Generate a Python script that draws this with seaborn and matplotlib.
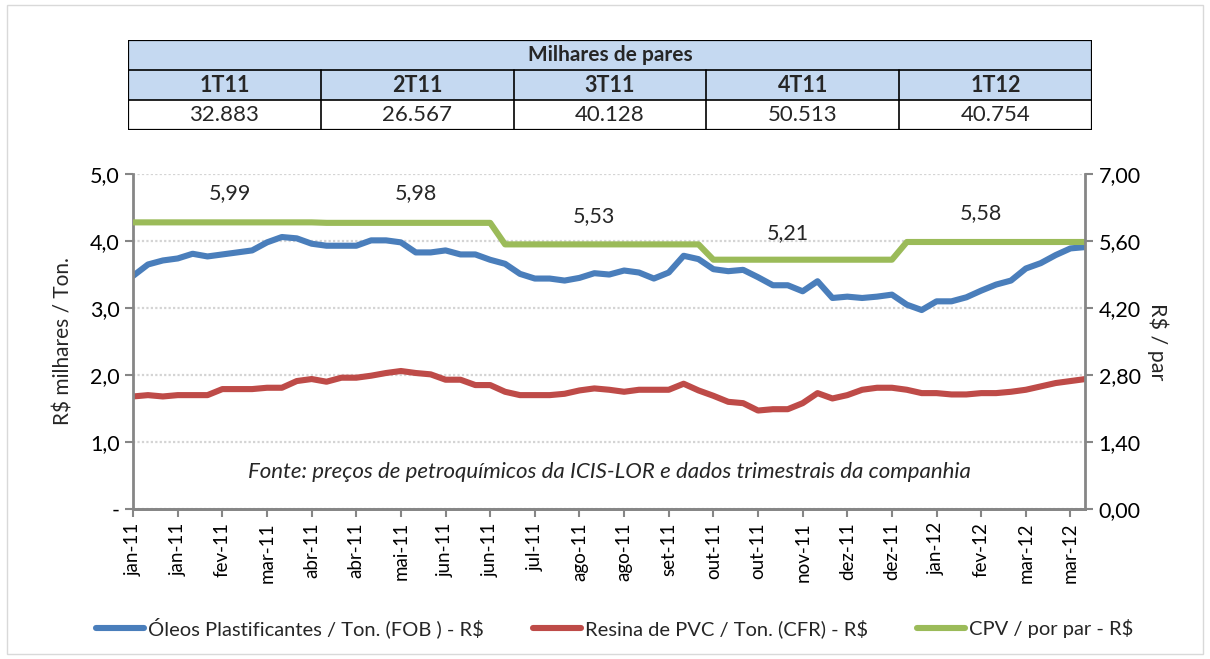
import seaborn as sns
import matplotlib.pyplot as plt
import matplotlib.patches as mpatches
import numpy as np
import pandas as pd

# Weekly series (65 points, jan-11 .. mar-12)
oleos = [3.48, 3.65, 3.71, 3.74, 3.81, 3.77, 3.80, 3.83, 3.86, 3.98,
         4.06, 4.04, 3.96, 3.93, 3.93, 3.93, 4.01, 4.01, 3.98, 3.83,
         3.83, 3.86, 3.80, 3.80, 3.72, 3.66, 3.51, 3.44, 3.44, 3.41,
         3.45, 3.52, 3.50, 3.56, 3.53, 3.44, 3.53, 3.78, 3.73, 3.58,
         3.55, 3.57, 3.46, 3.34, 3.34, 3.25, 3.40, 3.15, 3.17, 3.15,
         3.17, 3.20, 3.05, 2.97, 3.10, 3.10, 3.16, 3.26, 3.35, 3.41,
         3.59, 3.67, 3.79, 3.89, 3.91]
resina = [1.68, 1.70, 1.68, 1.70, 1.70, 1.70, 1.79, 1.79, 1.79, 1.81,
          1.81, 1.91, 1.94, 1.90, 1.96, 1.96, 1.99, 2.03, 2.06, 2.03,
          2.01, 1.93, 1.93, 1.85, 1.85, 1.75, 1.70, 1.70, 1.70, 1.72,
          1.77, 1.80, 1.78, 1.75, 1.78, 1.78, 1.78, 1.87, 1.77, 1.69,
          1.60, 1.58, 1.47, 1.49, 1.49, 1.58, 1.73, 1.65, 1.70, 1.78,
          1.81, 1.81, 1.78, 1.73, 1.73, 1.71, 1.71, 1.73, 1.73, 1.75,
          1.78, 1.83, 1.88, 1.91, 1.94]
cpv = [5.99] * 13 + [5.98] * 12 + [5.53] * 14 + [5.21] * 13 + [5.58] * 13

cpv_labels = ["5,99", "5,98", "5,53", "5,21", "5,58"]

x_labels = ["jan-11", "jan-11", "fev-11", "mar-11", "abr-11", "abr-11",
            "mai-11", "jun-11", "jun-11", "jul-11", "ago-11", "ago-11",
            "set-11", "out-11", "out-11", "nov-11", "dez-11", "dez-11",
            "jan-12", "fev-12", "mar-12", "mar-12"]

quarters = ["1T11", "2T11", "3T11", "4T11", "1T12"]
pares = ["32.883", "26.567", "40.128", "50.513", "40.754"]

df = pd.DataFrame({"semana": np.arange(len(oleos)), "oleos": oleos,
                   "resina": resina, "cpv": cpv})

sns.set_style("white")
plt.rcParams["font.family"] = ["Lato", "DejaVu Sans"]

BLUE = "#4A7EBB"
RED = "#BE4B48"
GREEN = "#9BBB59"
AXIS = "#868686"
FS = 15.5

fig = plt.figure(figsize=(12.1, 6.59), dpi=100)
ax = fig.add_axes([0.110, 0.2276, 0.787, 0.5083])
ax2 = ax.twinx()

sns.lineplot(data=df, x="semana", y="oleos", ax=ax, color=BLUE, lw=4.4,
             label="Óleos Plastificantes / Ton. (FOB ) - R$", legend=False)
sns.lineplot(data=df, x="semana", y="resina", ax=ax, color=RED, lw=4.4,
             label="Resina de PVC / Ton. (CFR) - R$", legend=False)
sns.lineplot(data=df, x="semana", y="cpv", ax=ax2, color=GREEN, lw=4.4,
             label="CPV / por par - R$", legend=False)

ax.set_xlim(0, 64)
ax.set_ylim(0, 5)
ax2.set_ylim(0, 7)
ax.set_yticks(np.arange(0, 5.01, 1.0))
ax.set_yticklabels(["-"] + [f"{v:.1f}".replace(".", ",") for v in np.arange(1, 5.01, 1.0)])
ax2.set_yticks(np.arange(0, 7.01, 1.4))
ax2.set_yticklabels([f"{v:.2f}".replace(".", ",") for v in np.arange(0, 7.01, 1.4)])
ax.set_xticks(np.arange(0, 64, 3))
ax.set_xticklabels(x_labels, rotation=90)

for a in (ax, ax2):
    a.spines["top"].set_visible(False)
    for s in ("left", "right", "bottom"):
        a.spines[s].set_color(AXIS)
        a.spines[s].set_linewidth(2)
    a.tick_params(axis="both", colors=AXIS, width=1.5, length=6,
                  labelcolor="black", labelsize=FS)
ax.spines["right"].set_visible(False)
ax2.spines["left"].set_visible(False)
ax.tick_params(axis="x", direction="out", bottom=True, labelsize=13.5)
ax.tick_params(axis="y", direction="out", left=True)
ax2.tick_params(axis="y", direction="out", right=True)

ax.yaxis.grid(True, color="#D4D4D4", linestyle=(0, (1, 1)), lw=1.6)
ax.set_axisbelow(True)
ax.set_xlabel("")
ax.set_ylabel("R$ milhares / Ton.", fontsize=15, labelpad=12)
ax2.set_ylabel("R$ / par", fontsize=FS, rotation=-90, labelpad=20)

# CPV quarter labels
lbl_pos = [(6.5, 6.60), (19.0, 6.60), (31.0, 6.12), (44.0, 5.77), (57.0, 6.18)]
for (xp, yp), t in zip(lbl_pos, cpv_labels):
    ax2.text(xp, yp, t, ha="center", va="center", fontsize=FS)

ax.text(32, 0.55, "Fonte: preços de petroquímicos da ICIS-LOR e dados trimestrais da companhia",
        ha="center", va="center", fontsize=16, style="italic")

# Legend
h1, l1 = ax.get_legend_handles_labels()
h2, l2 = ax2.get_legend_handles_labels()
fig.legend(h1 + h2, l1 + l2, loc="center", bbox_to_anchor=(0.508, 0.047), ncol=3,
           frameon=False, fontsize=14.5, handlelength=2.4, handletextpad=0.2,
           columnspacing=2.4)

# Table
tax = fig.add_axes([0.1058, 0.8027, 0.7967, 0.1366])
tax.set_xlim(0, 5)
tax.set_ylim(0, 3)
tax.axis("off")
fill = "#C5D9F1"
tax.add_patch(mpatches.Rectangle((0, 1), 5, 2, facecolor=fill, edgecolor="none"))
tax.add_patch(mpatches.Rectangle((0, 0), 5, 3, facecolor="none", edgecolor="black", lw=1.6))
tax.plot([0, 5], [2, 2], color="black", lw=1.2)
tax.plot([0, 5], [1, 1], color="black", lw=1.2)
for i in range(1, 5):
    tax.plot([i, i], [0, 2], color="black", lw=1.2)
tax.text(2.5, 2.5, "Milhares de pares", ha="center", va="center",
         fontsize=15, fontweight="bold")
for i, (q, v) in enumerate(zip(quarters, pares)):
    tax.text(i + 0.5, 1.5, q, ha="center", va="center", fontsize=15.5, fontweight="bold")
    tax.text(i + 0.5, 0.5, v, ha="center", va="center", fontsize=16)

fig.patches.append(mpatches.Rectangle((0.006, 0.008), 0.988, 0.984, transform=fig.transFigure,
                                      facecolor="none", edgecolor="#D9D9D9", lw=1))

fig.savefig("out.png", dpi=100)
